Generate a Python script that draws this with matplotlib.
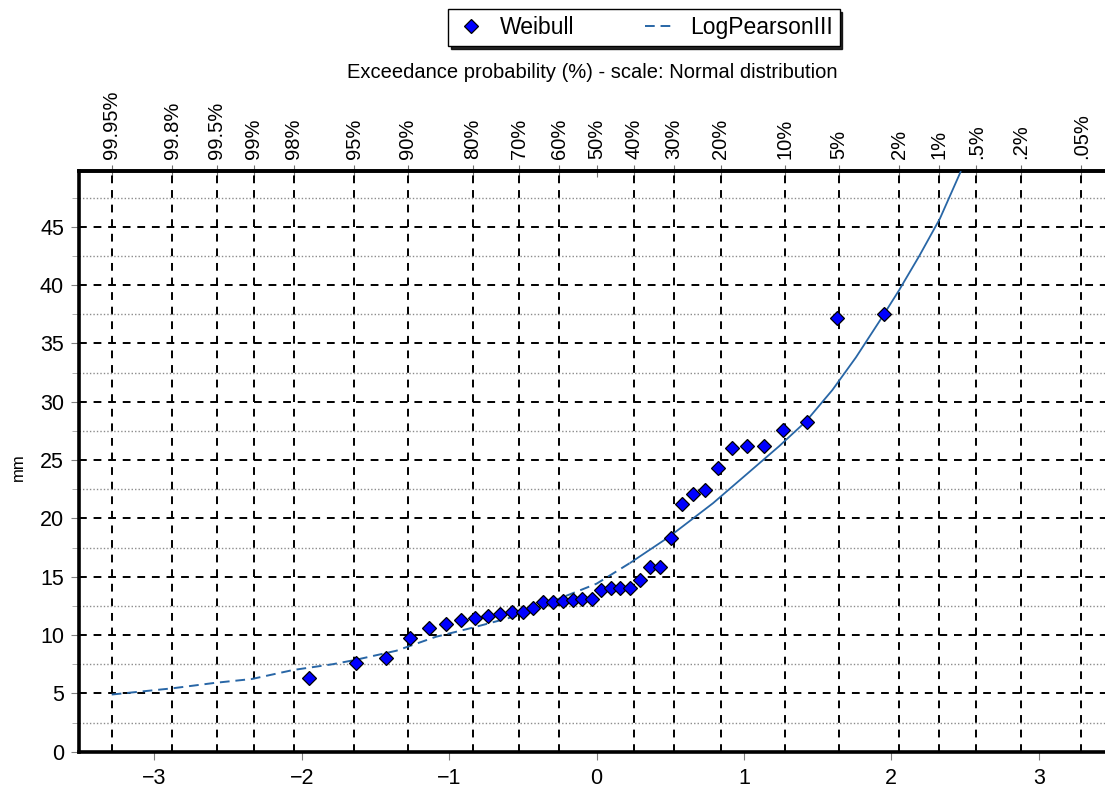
import math
import numpy as np
import matplotlib
matplotlib.use("Agg")
import matplotlib.pyplot as plt

plt.rcParams['font.family'] = ['Liberation Sans', 'DejaVu Sans']

# observed values, sorted ascending (mm) - plotted with Weibull positions i/(n+1)
weibull_mm = [6.34, 7.63, 8.05, 9.74, 10.57, 10.94, 11.29, 11.43, 11.63, 11.77,
              11.95, 12.0, 12.34, 12.8, 12.8, 12.94, 13.0, 13.11, 13.11, 13.86,
              14.0, 14.0, 14.0, 14.71, 15.8, 15.8, 18.34, 21.23, 22.1, 22.42,
              24.28, 26.0, 26.22, 26.22, 27.54, 28.23, 37.14, 37.5]

# fitted Log Pearson III curve (normal reduced variate, mm)
lp3_z = [-3.29, -2.88, -2.59, -2.34, -2.06, -1.79, -1.64, -1.36, -1.09, -0.86,
         -0.52, -0.25, 0.0, 0.23, 0.49, 0.79, 1.02, 1.24, 1.42, 1.60,
         1.76, 1.93, 2.05, 2.19, 2.33, 2.47]
lp3_mm = [4.9, 5.43, 5.9, 6.23, 7.0, 7.5, 7.86, 8.65, 9.85, 10.57,
          11.71, 13.14, 14.4, 16.2, 18.4, 21.3, 23.8, 26.2, 28.3, 31.0,
          33.8, 37.1, 39.5, 42.5, 45.7, 49.7]

# exceedance probabilities shown on the top axis (%)
exceed_pct = [99.95, 99.8, 99.5, 99, 98, 95, 90, 80, 70, 60, 50, 40, 30, 20,
              10, 5, 2, 1, 0.5, 0.2, 0.05]
exceed_labels = ['99.95%', '99.8%', '99.5%', '99%', '98%', '95%', '90%', '80%',
                 '70%', '60%', '50%', '40%', '30%', '20%', '10%', '5%', '2%',
                 '1%', '.5%', '.2%', '.05%']

bottom_ticks = [-3, -2, -1, 0, 1, 2, 3]


def norm_cdf(x):
    return 0.5 * (1.0 + math.erf(x / math.sqrt(2.0)))


def norm_ppf(p):
    # simple bisection, good enough for axis positions
    lo, hi = -10.0, 10.0
    for _ in range(100):
        mid = 0.5 * (lo + hi)
        if norm_cdf(mid) < p:
            lo = mid
        else:
            hi = mid
    return 0.5 * (lo + hi)


n = len(weibull_mm)
weibull_z = [norm_ppf((i + 1) / (n + 1)) for i in range(n)]
prob_z = [norm_ppf(1 - p / 100.0) for p in exceed_pct]

W, H = 1105, 792
fig = plt.figure(figsize=(W / 100, H / 100), dpi=100)
ax = fig.add_axes([79.3 / W, 40.3 / H, 1 - 79.3 / W, 581 / H])

line_color = '#2866a6'
split = lp3_z.index(0.23) + 1
lp3_line, = ax.plot(lp3_z[:split], lp3_mm[:split], color=line_color, lw=1.4,
                    ls=(0, (5, 3)), label='LogPearsonIII', zorder=3)
ax.plot(lp3_z[split - 1:], lp3_mm[split - 1:], color=line_color, lw=1.3,
        ls='-', zorder=3)
pts, = ax.plot(weibull_z, weibull_mm, ls='none', marker='D', ms=7.2,
               mfc='#0000ff', mec='black', mew=0.9, label='Weibull', zorder=4)

ax.set_xlim(-3.51, 3.45)
ax.set_ylim(0, 49.8)

ax.set_xticks(bottom_ticks)
ax.set_xticks(prob_z, minor=True)
ax.set_yticks(range(0, 50, 5))
ax.set_yticks(np.arange(2.5, 50, 5), minor=True)

ax.set_axisbelow(True)
ax.xaxis.grid(True, which='minor', ls=(0, (4, 3.5)), color='black', lw=1.4)
ax.yaxis.grid(True, which='major', ls=(0, (4, 3.5)), color='black', lw=1.4)
ax.yaxis.grid(True, which='minor', ls=(0, (1, 1.5)), color='#8c8c8c', lw=1.0)

ax.tick_params(axis='x', which='minor', length=0)
ax.tick_params(axis='x', which='major', direction='out', length=6,
               color='#808080', labelsize=15.5, pad=6)
ax.tick_params(axis='y', which='major', direction='out', length=6,
               color='#808080', labelsize=15.5, pad=5)
ax.tick_params(axis='y', which='minor', direction='out', length=5,
               color='#a0a0a0')

for side in ['left', 'top', 'bottom']:
    ax.spines[side].set_linewidth(2.6)
ax.spines['right'].set_visible(False)

# top axis with exceedance probabilities
secax = ax.secondary_xaxis('top')
secax.set_xticks(prob_z, labels=exceed_labels, rotation=90)
secax.tick_params(direction='inout', length=9, color='#707070',
                  labelsize=14.5, pad=4)
secax.spines['top'].set_linewidth(2.6)
secax.set_xlabel('Exceedance probability (%) - scale: Normal distribution',
                 fontsize=14.5, labelpad=9)

ax.set_ylabel('mm', fontsize=12)
ax.yaxis.set_label_coords(-0.052, 0.49)

fig.legend(handles=[pts, lp3_line], ncol=2, loc='center',
           bbox_to_anchor=(644 / W, 1 - 27.5 / H), fontsize=16.5,
           frameon=True, fancybox=False, edgecolor='black',
           shadow={'color': 'black', 'alpha': 0.85},
           handlelength=1.35, columnspacing=3.1, borderpad=0.3,
           handletextpad=0.6, framealpha=1)

fig.savefig('out.png', dpi=100)
